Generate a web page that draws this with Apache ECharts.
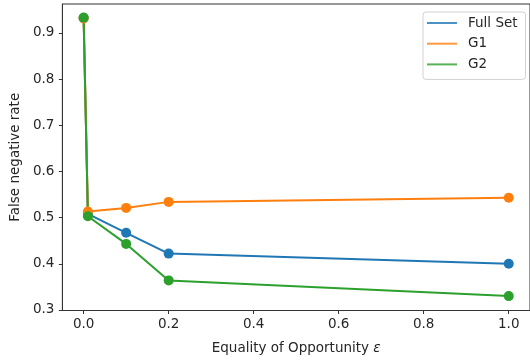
<!DOCTYPE html>
<html>
<head>
<meta charset="utf-8">
<script src="https://cdn.jsdelivr.net/npm/echarts@6/dist/echarts.min.js"></script>
<style>
  html, body { margin: 0; padding: 0; background: #ffffff; }
  #chart { width: 530px; height: 362px; }
</style>
</head>
<body>
<div id="chart"></div>
<script>
// Fairness constraint strength (epsilon) on the x axis
const epsValues = [0, 0.01, 0.1, 0.2, 1.0];

// False negative rate per group
const fullSet = [0.932, 0.508, 0.467, 0.422, 0.400];
const g1 = [0.931, 0.513, 0.521, 0.534, 0.543];
const g2 = [0.933, 0.503, 0.443, 0.364, 0.330];

const seriesNames = ['Full Set', 'G1', 'G2'];
const seriesColors = ['#1f77b4', '#ff7f0e', '#2ca02c'];

// Tick labels
const xTicks = [0.0, 0.2, 0.4, 0.6, 0.8, 1.0];
const yTicks = [0.3, 0.4, 0.5, 0.6, 0.7, 0.8, 0.9];

const FONT = 'DejaVu Sans';
const TEXT = '#262626';
const SPINE = '#333333';

function makeSeries(name, values, color) {
  return {
    name: name,
    type: 'line',
    data: epsValues.map((x, i) => [x, values[i]]),
    symbol: 'circle',
    symbolSize: 10,
    showSymbol: true,
    lineStyle: { width: 2, color: color },
    itemStyle: { color: color },
    emphasis: { disabled: true },
    animation: false
  };
}

const chart = echarts.init(document.getElementById('chart'), null, { renderer: 'canvas' });

chart.setOption({
  animation: false,
  backgroundColor: '#ffffff',
  textStyle: { fontFamily: FONT },
  grid: {
    left: 62, right: -2.4, top: 4, bottom: 51.5,
    show: true, borderColor: SPINE, borderWidth: 1,
    backgroundColor: 'transparent'
  },
  legend: {
    data: seriesNames,
    orient: 'vertical',
    left: 423,
    top: 12,
    padding: [3, 8, 7, 4],
    backgroundColor: 'rgba(255,255,255,0.8)',
    borderColor: '#d2d2d2',
    borderWidth: 1,
    borderRadius: 3,
    icon: 'rect',
    itemWidth: 30,
    itemHeight: 2,
    itemGap: 4.7,
    itemStyle: { opacity: 0.8 },
    textStyle: {
      fontFamily: FONT, fontSize: 13.5, color: TEXT,
      lineHeight: 16, padding: [0, 0, 0, 6]
    },
    selectedMode: false
  },
  xAxis: {
    type: 'value',
    min: -0.05,
    max: 1.05,
    name: 'Equality of Opportunity {i|ε}',
    nameLocation: 'middle',
    nameGap: 31,
    nameTextStyle: {
      fontFamily: FONT, fontSize: 13.5, color: TEXT,
      rich: { i: { fontFamily: FONT, fontSize: 13.5, fontStyle: 'italic', color: TEXT } }
    },
    axisLine: { show: true, onZero: false, lineStyle: { color: SPINE, width: 1 } },
    axisTick: { show: true, length: 3.5, customValues: xTicks, lineStyle: { color: SPINE } },
    axisLabel: {
      customValues: xTicks,
      formatter: v => v.toFixed(1),
      fontFamily: FONT, fontSize: 13.5, color: TEXT, margin: 7,
      hideOverlap: false
    },
    splitLine: { show: false }
  },
  yAxis: {
    type: 'value',
    min: 0.2988,
    max: 0.9625,
    name: 'False negative rate',
    nameLocation: 'middle',
    nameGap: 40,
    nameTextStyle: { fontFamily: FONT, fontSize: 13.5, color: TEXT },
    axisLine: { show: true, onZero: false, lineStyle: { color: SPINE, width: 1 } },
    axisTick: { show: true, length: 3.5, customValues: yTicks, lineStyle: { color: SPINE } },
    axisLabel: {
      customValues: yTicks,
      formatter: v => v.toFixed(1),
      fontFamily: FONT, fontSize: 13.5, color: TEXT, margin: 8,
      hideOverlap: false
    },
    splitLine: { show: false }
  },
  series: [
    makeSeries(seriesNames[0], fullSet, seriesColors[0]),
    makeSeries(seriesNames[1], g1, seriesColors[1]),
    makeSeries(seriesNames[2], g2, seriesColors[2])
  ]
});
</script>
</body>
</html>
